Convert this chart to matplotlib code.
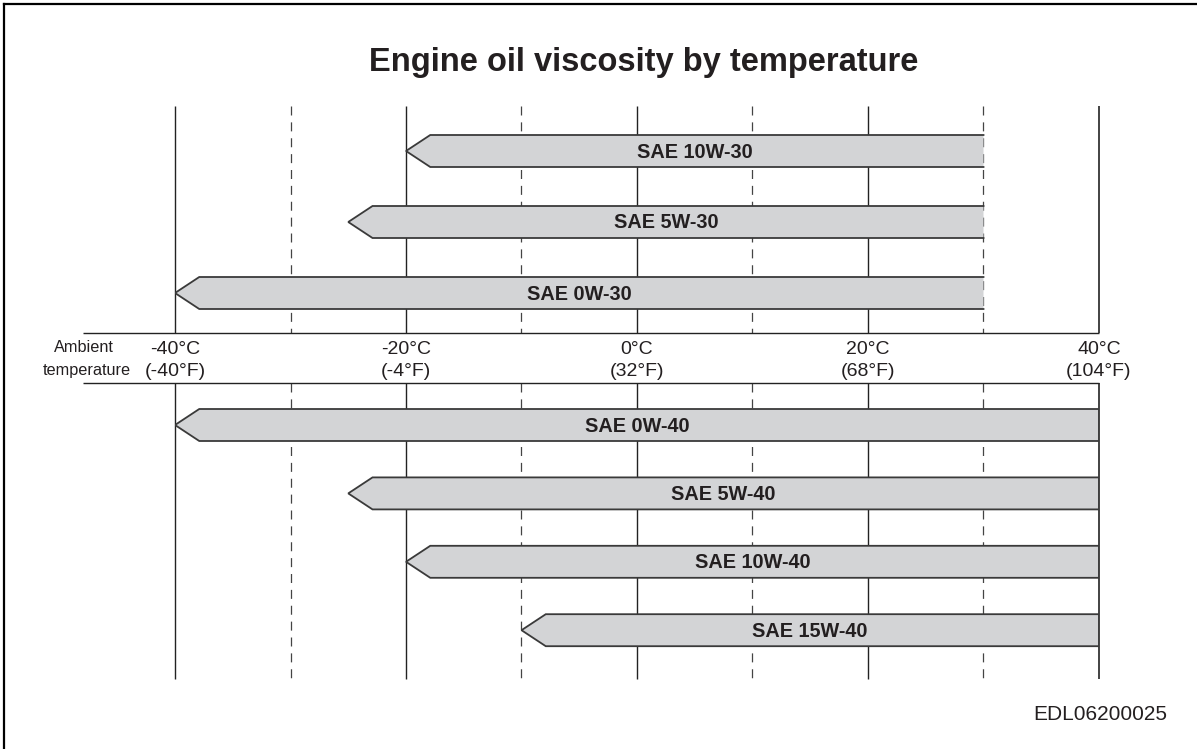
import matplotlib
matplotlib.use('Agg')
import matplotlib.pyplot as plt
from matplotlib.patches import Polygon
from matplotlib.lines import Line2D

plt.rcParams['font.family'] = ['Liberation Sans', 'DejaVu Sans']

# Oil grades and their lowest usable ambient temperature (deg C)
grades_30 = ['SAE 10W-30', 'SAE 5W-30', 'SAE 0W-30']
low_30 = [-20, -25, -40]
high_30 = 30

grades_40 = ['SAE 0W-40', 'SAE 5W-40', 'SAE 10W-40', 'SAE 15W-40']
low_40 = [-40, -25, -20, -10]
high_40 = 40

major_c = [-40, -20, 0, 20, 40]
minor_c = [-30, -10, 10, 30]

W, H = 1197, 749
fig = plt.figure(figsize=(W / 100, H / 100), dpi=100)
# x in deg C, y in pixel rows from the top
ax = fig.add_axes([175 / W, 0, 924 / W, 1])
ax.set_xlim(-40, 40)
ax.set_ylim(H, 0)
ax.axis('off')

FILL = '#d3d4d6'
EDGE = '#3a3a3a'
HEAD = 2.1       # arrow head length in deg C
HALF = 16        # half bar height in px
GRID_TOP, BAND_TOP, BAND_BOT, GRID_BOT = 106, 333, 383, 679

# vertical temperature guides, broken around the scale band
for y0, y1 in [(GRID_TOP, BAND_TOP), (BAND_BOT, GRID_BOT)]:
    ax.vlines(major_c[:-1], y0, y1, color='#222222', lw=1.0, zorder=1, clip_on=False)
    # the warm end line doubles as the closed end of the 40-grade bars
    ax.vlines(major_c[-1:], y0, y1, color='#222222', lw=1.2, zorder=3, clip_on=False)
    ax.vlines(minor_c, y0, y1, color='#444444', lw=0.9,
              linestyles=(0, (7.2, 5.5)), zorder=1)

# scale band
ax.hlines([BAND_TOP, BAND_BOT], -48, 40, color='#222222', lw=1.0, clip_on=False)


def draw_bar(lo, hi, yc, label):
    pts = [(hi, yc - HALF), (lo + HEAD, yc - HALF), (lo, yc),
           (lo + HEAD, yc + HALF), (hi, yc + HALF)]
    ax.add_patch(Polygon(pts, closed=True, facecolor=FILL, edgecolor='none', zorder=2))
    xs, ys = zip(*pts)
    ax.add_line(Line2D(xs, ys, color=EDGE, lw=1.3, zorder=3, solid_joinstyle='miter'))
    ax.text((lo + hi) / 2, yc + 1, label, ha='center', va='center',
            fontsize=14.3, fontweight='bold', color='#231f20', zorder=4)


for i, (g, lo) in enumerate(zip(grades_30, low_30)):
    draw_bar(lo, high_30, 151 + 71 * i, g)

for i, (g, lo) in enumerate(zip(grades_40, low_40)):
    draw_bar(lo, high_40, 425 + 68.4 * i, g)

# temperature scale labels
for c in major_c:
    f = round(c * 9 / 5 + 32)
    ax.text(c, 349, f'{c}°C', ha='center', va='center', fontsize=14, color='#231f20')
    ax.text(c, 371, f'({f}°F)', ha='center', va='center', fontsize=14, color='#231f20')

ax.text(-47.9, 348, 'Ambient', ha='center', va='center', fontsize=11.7, color='#231f20')
ax.text(-47.6, 370, 'temperature', ha='center', va='center', fontsize=11.7, color='#231f20')

fig.text(643.5 / W, 1 - 62 / H, 'Engine oil viscosity by temperature', ha='center', va='center',
         fontsize=23.5, fontweight='bold', color='#231f20')
fig.text(1167 / W, 1 - 715 / H, 'EDL06200025', ha='right', va='center',
         fontsize=15, color='#231f20')

# frame edges along top and left
fig.add_artist(Line2D([4 / W, 4 / W], [0, 1 - 4 / H], color='black', lw=1.6, transform=fig.transFigure))
fig.add_artist(Line2D([4 / W, 1], [1 - 4 / H, 1 - 4 / H], color='black', lw=1.6, transform=fig.transFigure))

fig.savefig('out.png', dpi=100)
